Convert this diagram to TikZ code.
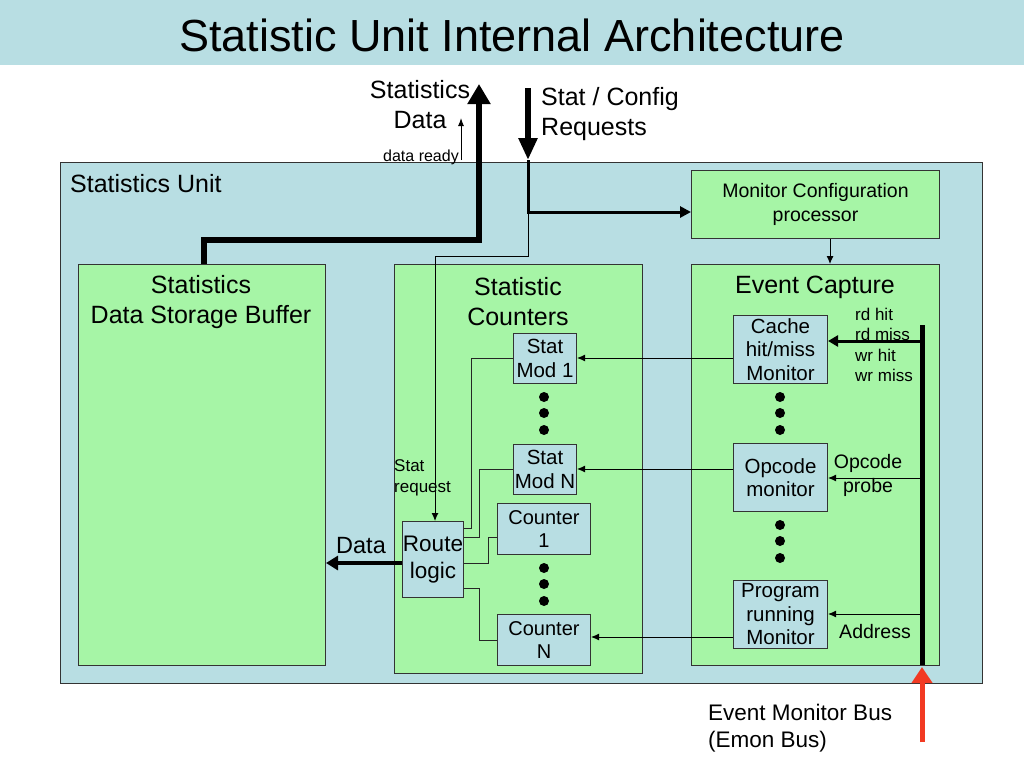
\documentclass[tikz,border=0pt]{standalone}
\usepackage{fontspec}
\setmainfont{Liberation Sans}
\usetikzlibrary{arrows.meta}
\definecolor{bgblue}{HTML}{B8DEE3}
\definecolor{boxgreen}{HTML}{A6F5A6}
\definecolor{busred}{HTML}{F23A22}
\definecolor{edge}{HTML}{333333}
\tikzset{
  f16/.style={font=\fontsize{16}{18}\selectfont},
  f17/.style={font=\fontsize{17}{20.5}\selectfont},
  f19/.style={font=\fontsize{19.5}{24}\selectfont},
  f20/.style={font=\fontsize{20.5}{23.5}\selectfont},
  f22/.style={font=\fontsize{22.5}{27}\selectfont},
  f25/.style={font=\fontsize{25}{30}\selectfont},
  gbox/.style={draw=edge, line width=1, fill=boxgreen, anchor=north west, inner sep=0},
  bbox/.style={draw=edge, line width=1, fill=bgblue, anchor=north west, inner sep=0, align=center, f20},
  wire/.style={draw=black!85, line width=1},
  thinarrow/.style={draw=black, line width=1, -{Latex[length=8,width=7]}},
  dot/.style={circle, fill=black, minimum size=10, inner sep=0},
  txt/.style={inner sep=0, align=center}
}
\begin{document}
\begin{tikzpicture}[x=1pt,y=-1pt]
\useasboundingbox (0,0) rectangle (1024,768);
\fill[white] (0,0) rectangle (1024,768);
\fill[bgblue] (0,0) rectangle (1024,65);
\node[txt, font=\fontsize{45}{50}\selectfont] (title) at (512,35) {Statistic Unit Internal Architecture};

% outer unit
\node[draw=edge, line width=1, fill=bgblue, anchor=north west, inner sep=0, minimum width=922, minimum height=521] (unit) at (60,162) {};
\node[txt, f25, anchor=west] (unitlbl) at (70,184) {Statistics Unit};

% big boxes
\node[gbox, minimum width=248, minimum height=68, align=center, f19] (cfg) at (691,170) {Monitor Configuration\\processor};
\node[gbox, minimum width=247, minimum height=401] (buf) at (78,264) {};
\node[gbox, minimum width=248, minimum height=409] (cnt) at (394,264) {};
\node[gbox, minimum width=248, minimum height=401] (evc) at (691,264) {};
\node[txt, f25] (buflbl) at (201,302) {Statistics\\Data Storage Buffer};
\node[txt, f25] (cntlbl) at (518,302) {Statistic\\Counters};
\node[txt, f25] (evclbl) at (815,287) {Event Capture};

% small boxes
\node[bbox, minimum width=63, minimum height=50] (sm1) at (513,333) {Stat\\Mod 1};
\node[bbox, minimum width=63, minimum height=50] (smN) at (513,444) {Stat\\Mod N};
\node[bbox, minimum width=93, minimum height=51, font=\fontsize{20}{23.5}\selectfont] (c1) at (497,503) {Counter\\1};
\node[bbox, minimum width=93, minimum height=51, font=\fontsize{20}{23.5}\selectfont] (cN) at (497,614) {Counter\\N};
\node[bbox, minimum width=61, minimum height=76, font=\fontsize{22.5}{27}\selectfont] (route) at (402,521) {Route\\logic};
\node[bbox, minimum width=94, minimum height=68] (cache) at (733,315) {Cache\\hit/miss\\Monitor};
\node[bbox, minimum width=94, minimum height=68] (opc) at (733,443) {Opcode\\monitor};
\node[bbox, minimum width=94, minimum height=68] (prog) at (733,580) {Program\\running\\Monitor};

% dots
\foreach \y [count=\i] in {397,413,430} {
  \node[dot] (da\i) at (544,\y) {};
  \node[dot] (dc\i) at (780,\y) {};
}
\foreach \y [count=\i] in {568,584,601} {
  \node[dot] (db\i) at (544,\y) {};
}
\foreach \y [count=\i] in {525,541,558} {
  \node[dot] (dd\i) at (780,\y) {};
}

% route logic wires
\draw[wire] (route.east |- 0,528) -- (471,528) |- (sm1.west);
\draw[wire] (route.east |- 0,537) -- (479,537) |- (smN.west);
\draw[wire] (route.east |- 0,563) -- (488,563) |- (c1.west |- 0,537);
\draw[wire] (route.east |- 0,588) -- (479,588) |- (cN.west |- 0,640);

% monitor -> counters
\draw[thinarrow] (cache.west |- 0,358) -- (sm1.east |- 0,358);
\draw[thinarrow] (opc.west |- 0,469) -- (smN.east |- 0,469);
\draw[thinarrow] (prog.west |- 0,637) -- (cN.east |- 0,637);

% event bus
\coordinate (bustop) at (922,325);
\coordinate (busbot) at (922,665);
\draw[line width=5] (bustop) -- (busbot);
\coordinate (redtail) at (922,742);
\coordinate (redtip) at (922,667);
\draw[busred, line width=5, -{Triangle[length=16,width=20]}] (redtail) -- (redtip);
\draw[line width=3, -{Triangle[length=10,width=11]}] (bustop |- 0,341) -- (cache.east |- 0,341);
\draw[thinarrow] (bustop |- 0,478) -- (opc.east |- 0,478);
\draw[thinarrow] (bustop |- 0,614) -- (prog.east |- 0,614);

% config -> event capture
\draw[thinarrow] (cfg.south -| 830,0) -- (evc.north -| 830,0);

% stat / config requests
\coordinate (reqtop) at (528,88);
\coordinate (reqin) at (528,160);
\coordinate (reqsplit) at (528,212);
\draw[line width=6, -{Triangle[length=22,width=18]}] (reqtop) -- (reqin);
\draw[line width=3, -{Triangle[length=11,width=11]}] (reqin) -- (reqsplit) -- (cfg.west |- reqsplit);
\draw[thinarrow] (reqsplit) -- (528,256) -- (435,256) -- (route.north -| 435,0);

% statistics data out
\coordinate (datatip) at (479,84);
\draw[line width=6, line join=miter, -{Triangle[length=20,width=22]}] (buf.north -| 204,0) -- (204,240) -- (479,240) -- (datatip);
\coordinate (rdyfoot) at (461,160);
\coordinate (rdytip) at (461,118);
\draw[line width=1, -{Latex[length=8,width=6]}] (rdyfoot) -- (rdytip);

% data arrow
\draw[line width=4, -{Triangle[length=12,width=14]}] (route.west |- 0,563) -- (buf.east |- 0,563);

% labels
\node[txt, f25] (sdlbl) at (420,105) {Statistics\\Data};
\node[txt, f25, align=left, anchor=west] (reqlbl) at (541,114) {Stat / Config\\Requests};
\node[txt, f16, anchor=east] (rdylbl) at (459,157) {data ready};
\node[txt, f17, align=left, anchor=west] (streq) at (394,478) {Stat\\request};
\node[txt, font=\fontsize{23.5}{27}\selectfont] (datalbl) at (361,546) {Data};
\node[txt, f17, align=left, anchor=west] (rdlbl) at (855,345) {rd hit\\rd miss\\wr hit\\wr miss};
\node[txt, f19] (oplbl) at (868,475) {Opcode\\probe};
\node[txt, f19] (addrlbl) at (875,632) {Address};
\node[txt, font=\fontsize{22.5}{27}\selectfont, align=left, anchor=west] (emon) at (708,728) {Event Monitor Bus\\(Emon Bus)};
\end{tikzpicture}
\end{document}
